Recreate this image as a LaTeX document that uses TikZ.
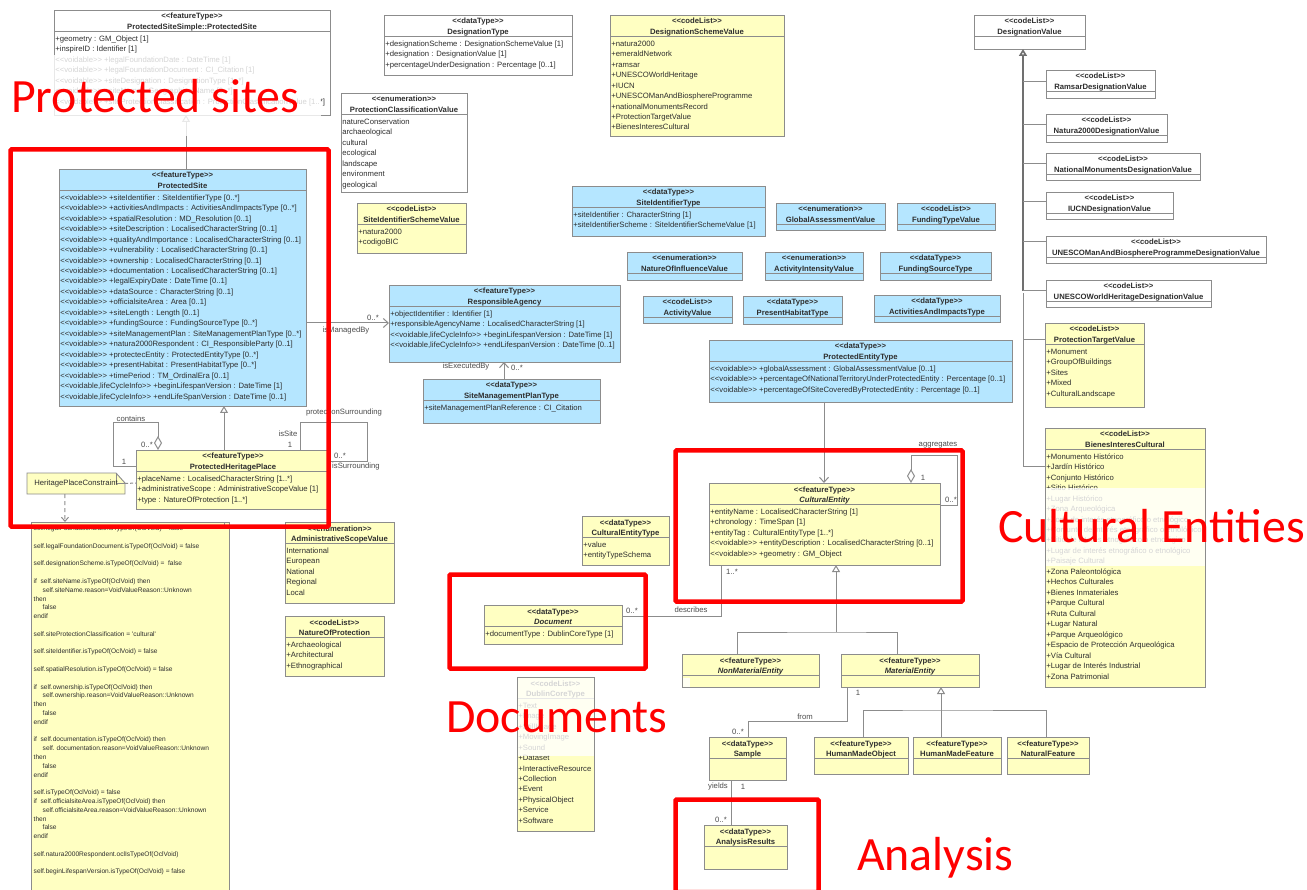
\documentclass[tikz,border=0pt]{standalone}
\usepackage{fontspec}
\usetikzlibrary{arrows.meta}
\newfontfamily\umlfont{Liberation Sans}
\newfontfamily\bigfont{Carlito}
\definecolor{ublue}{HTML}{B5E6FF}
\definecolor{uyellow}{HTML}{FFFFC2}
\definecolor{uline}{HTML}{8C8C8C}
\definecolor{utext}{HTML}{2E2E2E}
\definecolor{ured}{HTML}{FF0000}
\tikzset{
  boxshape/.style={draw=uline,line width=.9pt,rectangle,inner sep=0pt,outer sep=0pt,anchor=north west},
  sttext/.style={font=\umlfont\fontsize{7.7}{10}\selectfont\bfseries,text=utext,inner sep=0pt,anchor=base},
  attrs/.style={font=\umlfont\fontsize{7.7}{10.47}\selectfont,text=utext,inner sep=0pt,anchor=north west,align=left},
  ocltext/.style={font=\umlfont\fontsize{6.6}{8.8}\selectfont,text=utext,inner sep=0pt,anchor=north west,align=left},
  lbl/.style={font=\umlfont\fontsize{7.7}{10}\selectfont,text=black!70,inner sep=0pt,anchor=center},
  conn/.style={draw=uline,line width=1pt},
  gentip/.style={-{Triangle[open,length=7pt,width=8pt]}},
  bartip/.style={-{Straight Barb[length=5pt,width=9pt]}},
  diatip/.style={-{Diamond[open,length=14pt,width=8pt]}},
  fadebox/.style={fill=white,draw=none,opacity=.8},
  redbox/.style={draw=ured,line width=4.5pt,rounded corners=1pt},
  bigred/.style={font=\bigfont\fontsize{47.8}{50}\selectfont,text=ured,inner sep=0pt,anchor=base west},
}
% id x0 y0 x1 y1 fill stereotype title attrs
\newcommand\umlbox[9]{%
  \pgfmathsetmacro\bw{#4-#2}\pgfmathsetmacro\bh{#5-#3}%
  \pgfmathsetmacro\bc{(#2+#4)/2}\pgfmathsetmacro\bs{#3+21}%
  \node[boxshape,fill=#6,minimum width=\bw pt,minimum height=\bh pt] (#1) at (#2,#3) {};
  \draw[uline,line width=.8pt] (#2,\bs) -- (#4,\bs);
  \pgfmathsetmacro\by{#3+9}\node[sttext] (#1st) at (\bc,\by) {<<#7>>};
  \pgfmathsetmacro\by{#3+19.5}\node[sttext] (#1ti) at (\bc,\by) {#8};
  \pgfmathsetmacro\by{\bs+3}\pgfmathsetmacro\bx{#2+1.2}%
  \node[attrs] (#1at) at (\bx,\by) {\rule{0pt}{7pt}#9};
}
\begin{document}
\begin{tikzpicture}[x=1pt,y=-1pt]
\useasboundingbox (0,0) rectangle (1307,890);
\fill[white] (0,0) rectangle (1307,890);

\umlbox{pss}{54}{10}{330}{115}{white}{featureType}{ProtectedSiteSimple::ProtectedSite}{+geometry : GM\_Object [1]\\+inspireID : Identifier [1]\\<<voidable>> +legalFoundationDate : DateTime [1]\\<<voidable>> +legalFoundationDocument : CI\_Citation [1]\\<<voidable>> +siteDesignation : DesignationType [1..*]\\<<voidable>> +siteName : GeographicalName [0..*]\\<<voidable>> +siteProtectionClassification : ProtectionClassificationValue [1..*]}

\umlbox{psite}{59}{169}{306}{406}{ublue}{featureType}{ProtectedSite}{<<voidable>> +siteIdentifier : SiteIdentifierType [0..*]\\<<voidable>> +activitiesAndImpacts : ActivitiesAndImpactsType [0..*]\\<<voidable>> +spatialResolution : MD\_Resolution [0..1]\\<<voidable>> +siteDescription : LocalisedCharacterString [0..1]\\<<voidable>> +qualityAndImportance : LocalisedCharacterString [0..1]\\<<voidable>> +vulnerability : LocalisedCharacterString [0..1]\\<<voidable>> +ownership : LocalisedCharacterString [0..1]\\<<voidable>> +documentation : LocalisedCharacterString [0..1]\\<<voidable>> +legalExpiryDate : DateTime [0..1]\\<<voidable>> +dataSource : CharacterString [0..1]\\<<voidable>> +officialsiteArea : Area [0..1]\\<<voidable>> +siteLength : Length [0..1]\\<<voidable>> +fundingSource : FundingSourceType [0..*]\\<<voidable>> +siteManagementPlan : SiteManagementPlanType [0..*]\\<<voidable>> +natura2000Respondent : CI\_ResponsibleParty [0..1]\\<<voidable>> +protectecEntity : ProtectedEntityType [0..*]\\<<voidable>> +presentHabitat : PresentHabitatType [0..*]\\<<voidable>> +timePeriod : TM\_OrdinalEra [0..1]\\<<voidable,lifeCycleInfo>> +beginLifespanVersion : DateTime [1]\\<<voidable,lifeCycleInfo>> +endLifeSpanVersion : DateTime [0..1]}

\umlbox{php}{136}{450}{330}{509}{uyellow}{featureType}{ProtectedHeritagePlace}{+placeName : LocalisedCharacterString [1..*]\\+administrativeScope : AdministrativeScopeValue [1]\\+type : NatureOfProtection [1..*]}

\umlbox{adm}{285}{522}{394}{603}{uyellow}{enumeration}{AdministrativeScopeValue}{International\\European\\National\\Regional\\Local}
\umlbox{nat}{285}{616}{384}{676}{uyellow}{codeList}{NatureOfProtection}{+Archaeological\\+Architectural\\+Ethnographical}

\umlbox{dest}{384}{15}{572}{75}{white}{dataType}{DesignationType}{+designationScheme : DesignationSchemeValue [1]\\+designation : DesignationValue [1]\\+percentageUnderDesignation : Percentage [0..1]}
\umlbox{pcv}{341}{93}{467}{192}{white}{enumeration}{ProtectionClassificationValue}{natureConservation\\archaeological\\cultural\\ecological\\landscape\\environment\\geological}
\umlbox{siv}{357}{203}{466}{253}{uyellow}{codeList}{SiteIdentifierSchemeValue}{+natura2000\\+codigoBIC}
\umlbox{dsv}{610}{15}{784}{136}{uyellow}{codeList}{DesignationSchemeValue}{+natura2000\\+emeraldNetwork\\+ramsar\\+UNESCOWorldHeritage\\+IUCN\\+UNESCOManAndBiosphereProgramme\\+nationalMonumentsRecord\\+ProtectionTargetValue\\+BienesInteresCultural}

\umlbox{dv}{974}{15}{1085}{49}{white}{codeList}{DesignationValue}{}
\umlbox{ramsar}{1046}{70}{1155}{98}{white}{codeList}{RamsarDesignationValue}{}
\umlbox{natura}{1046}{114}{1167}{142}{white}{codeList}{Natura2000DesignationValue}{}
\umlbox{natmon}{1046}{153}{1200}{180}{white}{codeList}{NationalMonumentsDesignationValue}{}
\umlbox{iucn}{1046}{192}{1173}{219}{white}{codeList}{IUCNDesignationValue}{}
\umlbox{manbio}{1046}{236}{1266}{263}{white}{codeList}{UNESCOManAndBiosphereProgrammeDesignationValue}{}
\umlbox{wher}{1046}{280}{1211}{307}{white}{codeList}{UNESCOWorldHeritageDesignationValue}{}
\umlbox{ptv}{1045}{323}{1144}{407}{uyellow}{codeList}{ProtectionTargetValue}{+Monument\\+GroupOfBuildings\\+Sites\\+Mixed\\+CulturalLandscape}
\umlbox{bic}{1045}{428}{1205}{687}{uyellow}{codeList}{BienesInteresCultural}{+Monumento Histórico\\+Jardín Histórico\\+Conjunto Histórico\\+Sitio Histórico\\+Lugar Histórico\\+Zona Arqueológica\\+Zona de interés etnográfico o etnológico\\+Conjunto de interés etnográfico o etnológico\\+Sitio de interés etnográfico o etnológico\\+Lugar de interés etnográfico o etnológico\\+Paisaje Cultural\\+Zona Paleontológica\\+Hechos Culturales\\+Bienes Inmateriales\\+Parque Cultural\\+Ruta Cultural\\+Lugar Natural\\+Parque Arqueológico\\+Espacio de Protección Arqueológica\\+Vía Cultural\\+Lugar de Interés Industrial\\+Zona Patrimonial}

\umlbox{sit}{572}{186}{765}{236}{ublue}{dataType}{SiteIdentifierType}{+siteIdentifier : CharacterString [1]\\+siteIdentifierScheme : SiteIdentifierSchemeValue [1]}
\umlbox{gav}{776}{203}{885}{230}{ublue}{enumeration}{GlobalAssessmentValue}{}
\umlbox{ftv}{897}{203}{995}{230}{ublue}{codeList}{FundingTypeValue}{}
\umlbox{noi}{627}{252}{742}{280}{ublue}{enumeration}{NatureOfInfluenceValue}{}
\umlbox{aiv}{765}{252}{863}{280}{ublue}{enumeration}{ActivityIntensityValue}{}
\umlbox{fst}{880}{252}{991}{280}{ublue}{dataType}{FundingSourceType}{}
\umlbox{acv}{643}{296}{732}{323}{ublue}{codeList}{ActivityValue}{}
\umlbox{pht}{743}{296}{842}{324}{ublue}{dataType}{PresentHabitatType}{}
\umlbox{aat}{874}{295}{1000}{322}{ublue}{dataType}{ActivitiesAndImpactsType}{}
\umlbox{pet}{709}{340}{1012}{402}{ublue}{dataType}{ProtectedEntityType}{<<voidable>> +globalAssessment : GlobalAssessmentValue [0..1]\\<<voidable>> +percentageOfNationalTerritoryUnderProtectedEntity : Percentage [0..1]\\<<voidable>> +percentageOfSiteCoveredByProtectedEntity : Percentage [0..1]}

\umlbox{ra}{389}{285}{620}{362}{ublue}{featureType}{ResponsibleAgency}{+objectIdentifier : Identifier [1]\\+responsibleAgencyName : LocalisedCharacterString [1]\\<<voidable,lifeCycleInfo>> +beginLifespanVersion : DateTime [1]\\<<voidable,lifeCycleInfo>> +endLifespanVersion : DateTime [0..1]}
\umlbox{smp}{423}{379}{600}{423}{ublue}{dataType}{SiteManagementPlanType}{+siteManagementPlanReference : CI\_Citation}

\umlbox{cet}{582}{516}{669}{565}{uyellow}{dataType}{CulturalEntityType}{+value\\+entityTypeSchema}
\umlbox{ce}{709}{483}{940}{565}{uyellow}{featureType}{\itshape CulturalEntity}{+entityName : LocalisedCharacterString [1]\\+chronology : TimeSpan [1]\\+entityTag : CulturalEntityType [1..*]\\<<voidable>> +entityDescription : LocalisedCharacterString [0..1]\\<<voidable>> +geometry : GM\_Object}
\umlbox{doc}{484}{605}{622}{644}{uyellow}{dataType}{\itshape Document}{+documentType : DublinCoreType [1]}
\umlbox{dub}{517}{677}{594}{831}{uyellow}{codeList}{DublinCoreType}{+Text\\+Image\\+StillImage\\+MovingImage\\+Sound\\+Dataset\\+InteractiveResource\\+Collection\\+Event\\+PhysicalObject\\+Service\\+Software}
\umlbox{nme}{682}{654}{819}{687}{uyellow}{featureType}{\itshape NonMaterialEntity}{}
\umlbox{me}{841}{654}{979}{687}{uyellow}{featureType}{\itshape MaterialEntity}{}
\umlbox{sam}{709}{737}{786}{780}{uyellow}{dataType}{Sample}{}
\umlbox{hmo}{814}{737}{908}{774}{uyellow}{featureType}{HumanMadeObject}{}
\umlbox{hmf}{913}{737}{1001}{774}{uyellow}{featureType}{HumanMadeFeature}{}
\umlbox{nfe}{1007}{737}{1089}{774}{uyellow}{featureType}{NaturalFeature}{}
\umlbox{anr}{704}{825}{787}{869}{uyellow}{dataType}{AnalysisResults}{}
\fill[white,opacity=.8] (682.5,678) rectangle (690,686.5);

% constraint body
\node[boxshape,fill=uyellow,minimum width=198pt,minimum height=372pt] (ocl) at (31,522) {};
\draw[uline,line width=.8pt] (224,522) -- (224,527) -- (229,527);
\node[ocltext] (ocltx) at (33.5,524.5) {\rule{0pt}{6pt}self.legalFoundationDate.isTypeOf(OclVoid) = false\\~\\self.legalFoundationDocument.isTypeOf(OclVoid) = false\\~\\self.designationScheme.isTypeOf(OclVoid) =~~false\\~\\if~~self.siteName.isTypeOf(OclVoid) then\\\hspace*{9pt}self.siteName.reason=VoidValueReason::Unknown\\then\\\hspace*{9pt}false\\endif\\~\\self.siteProtectionClassification = 'cultural'\\~\\self.siteIdentifier.isTypeOf(OclVoid) = false\\~\\self.spatialResolution.isTypeOf(OclVoid) = false\\~\\if~~self.ownership.isTypeOf(OclVoid) then\\\hspace*{9pt}self.ownership.reason=VoidValueReason::Unknown\\then\\\hspace*{9pt}false\\endif\\~\\if~~self.documentation.isTypeOf(OclVoid) then\\\hspace*{9pt}self.~documentation.reason=VoidValueReason::Unknown\\then\\\hspace*{9pt}false\\endif\\~\\self.isTypeOf(OclVoid) = false\\if~~self.officialsiteArea.isTypeOf(OclVoid) then\\\hspace*{9pt}self.officialsiteArea.reason=VoidValueReason::Unknown\\then\\\hspace*{9pt}false\\endif\\~\\self.natura2000Respondent.oclIsTypeOf(OclVoid)\\~\\self.beginLifespanVersion.isTypeOf(OclVoid) = false};

% note
\filldraw[fill=uyellow,draw=uline,line width=.9pt] (27,473) -- (116,473) -- (125,483) -- (125,494) -- (27,494) -- cycle;
\draw[uline,line width=.7pt] (116,473) -- (116,483) -- (125,483);
\node[lbl,text=utext,minimum width=98pt,minimum height=21pt] (hpc) at (76,483.5) {HeritagePlaceConstraint};

% connectors
\draw[conn,gentip] ([xshift=127pt]psite.north west) -- ([xshift=132pt]pss.south west);
\draw[conn,gentip] ([xshift=88pt]php.north west) -- ([xshift=165pt]psite.south west);
\draw[conn,diatip] ([yshift=-17pt]php.north west) -- ++(-23,0) |- (158,423) -- ([xshift=22pt]php.north west);
\draw[conn] ([xshift=164pt]php.north west) |- (367,423) |- ([yshift=-12pt]php.north east);
\draw[conn,bartip] ([yshift=-154pt]psite.north east) -- ([yshift=-38pt]ra.north west);
\draw[conn,bartip] ([xshift=81pt]smp.north west) -- ([xshift=115pt]ra.south west);
\draw[conn,dashed,dash pattern=on 3pt off 2pt] (hpc.east) -- ([yshift=-3.5pt]php.west);
\draw[conn,dashed,dash pattern=on 4pt off 3pt,-{Straight Barb[length=4pt,width=7pt]}] ([xshift=38pt]hpc.south west) -- ([xshift=34pt]ocl.north west);

\coordinate (trunk) at (1023,60);
\draw[conn,gentip,line width=1.6pt,draw=uline!80!black] ([xshift=49pt,yshift=-242pt]dv.south west) -- ([xshift=49pt]dv.south west);
\draw[conn] ([yshift=2pt]ramsar.west) -- ([yshift=2pt]ramsar.west -| trunk);
\draw[conn] ([yshift=3pt]natura.west) -- ([yshift=3pt]natura.west -| trunk);
\draw[conn] ([yshift=2.5pt]natmon.west) -- ([yshift=2.5pt]natmon.west -| trunk);
\draw[conn] ([yshift=3.5pt]iucn.west) -- ([yshift=3.5pt]iucn.west -| trunk);
\draw[conn] ([yshift=7.5pt]manbio.west) -- ([yshift=7.5pt]manbio.west -| trunk);
\draw[conn] ([yshift=2.5pt]wher.west) -- ([yshift=2.5pt]wher.west -| trunk);
\draw[conn] ([yshift=25pt]ptv.west) -- ([yshift=25pt]ptv.west -| trunk);
\draw[conn] ([yshift=90.5pt]bic.west) -- ([yshift=90.5pt]bic.west -| trunk) -- (wher.west -| trunk);

\draw[conn,bartip] ([xshift=115pt]pet.south west) -- ([xshift=115pt]ce.north west);
\draw[conn,diatip] ([yshift=-22pt]ce.north east) -- ++(17,0) |- (911,456) -- ([xshift=202pt]ce.north west);
\draw[conn] ([yshift=-11pt]doc.north east) -| ([xshift=12pt]ce.south west);
\coordinate (gen) at (836,632);
\draw[conn,gentip] (gen) -- ([xshift=127pt]ce.south west);
\draw[conn] ([xshift=55pt]nme.north west) |- (gen) -| ([xshift=56pt]me.north west);
\draw[conn] ([xshift=6pt]me.south west) |- (748,721) -- ([xshift=39pt]sam.north west);
\coordinate (gen2) at (941,710);
\draw[conn,gentip] ([xshift=28pt]hmf.north west) -- ([xshift=100pt]me.south west);
\draw[conn] ([xshift=49pt]hmo.north west) |- (gen2) -| ([xshift=39pt]nfe.north west);
\draw[conn] ([xshift=22pt]sam.south west) -- ([xshift=27pt]anr.north west);

% labels
\node[lbl] (l01) at (131,419) {contains};
\node[lbl] (l02) at (147,445) {0..*};
\node[lbl] (l03) at (124,462) {1};
\node[lbl] (l04) at (344,413) {protectionSurrounding};
\node[lbl] (l05) at (288,434) {isSite};
\node[lbl] (l06) at (290,445) {1};
\node[lbl] (l07) at (340,456) {0..*};
\node[lbl] (l08) at (356,467) {isSurrounding};
\node[lbl] (l09) at (373,318) {0..*};
\node[lbl] (l10) at (346,331) {isManagedBy};
\node[lbl] (l11) at (466,366.5) {isExecutedBy};
\node[lbl] (l12) at (517,368) {0..*};
\node[lbl] (l13) at (938,445) {aggregates};
\node[lbl] (l14) at (923,478) {1};
\node[lbl] (l15) at (951,500) {0..*};
\node[lbl] (l16) at (632,611) {0..*};
\node[lbl] (l17) at (691,610) {describes};
\node[lbl] (l18) at (732,572) {1..*};
\node[lbl] (l19) at (858,693) {1};
\node[lbl] (l20) at (805,717) {from};
\node[lbl] (l21) at (738,732) {0..*};
\node[lbl] (l22) at (718,787) {yields};
\node[lbl] (l23) at (743,787) {1};
\node[lbl] (l24) at (721,820) {0..*};

% overlays behind the big captions
\fill[fadebox] (10,55) rectangle (321,136);
\fill[fadebox] (1046,488) rectangle (1205,566);
\fill[fadebox] (517.5,677.5) rectangle (594,756);

% red frames and captions
\draw[redbox] (10.5,149.5) rectangle (328.5,526.5);
\draw[redbox] (675.5,450.5) rectangle (962.5,601.5);
\draw[redbox] (449.5,574.5) rectangle (645.5,668.5);
\draw[redbox] (675.5,799.5) rectangle (818.5,892);
\node[bigred] (c1) at (11,113) {Protected sites};
\node[bigred] (c2) at (998,542) {Cultural Entities};
\node[bigred] (c3) at (446,732) {Documents};
\node[bigred] (c4) at (857,870) {Analysis};
\end{tikzpicture}
\end{document}
